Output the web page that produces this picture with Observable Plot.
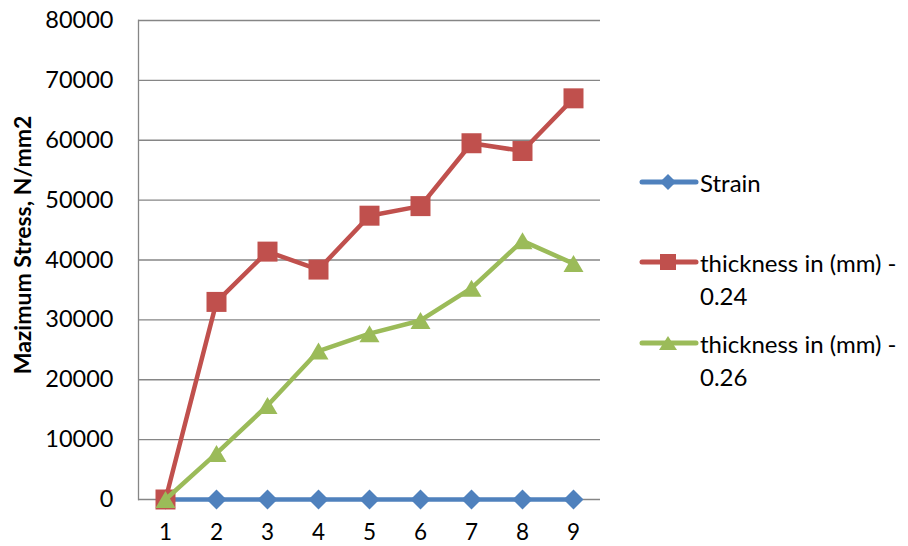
<!DOCTYPE html>
<html>
<head>
<meta charset="utf-8">
<script src="https://cdn.jsdelivr.net/npm/d3@7"></script>
<script src="https://cdn.jsdelivr.net/npm/@observablehq/plot@0.6"></script>
<style>
  html, body { margin: 0; padding: 0; background: #fff; }
  #wrap { position: relative; width: 908px; height: 546px; font-family: Lato, "Open Sans", sans-serif; color: #000; }
  #ytitle { position: absolute; left: 22px; top: 245px; transform: translate(-50%, -50%) rotate(-90deg); font-weight: bold; font-size: 23px; white-space: nowrap; }
  .lg { position: absolute; font-size: 24px; line-height: 33px; white-space: nowrap; }
  .sw { position: absolute; }
</style>
</head>
<body>
<div id="wrap"></div>
<script>
const categories = [1, 2, 3, 4, 5, 6, 7, 8, 9];
const strain = [0, 0, 0, 0, 0, 0, 0, 0, 0];
const thick024 = [0, 33000, 41400, 38400, 47400, 49000, 59500, 58200, 67000];
const thick026 = [0, 7700, 15700, 24800, 27700, 29900, 35300, 43200, 39400];
const yTicks = [0, 10000, 20000, 30000, 40000, 50000, 60000, 70000, 80000];
const seriesNames = ["Strain", "thickness in (mm) - 0.24", "thickness in (mm) - 0.26"];
const seriesColors = ["#4F81BD", "#C0504D", "#9BBB59"];

const sym = (f) => ({ draw(ctx, size) { f(ctx, Math.sqrt(size / Math.PI)); } });
const diamond = sym((c, r) => { c.moveTo(0, -r); c.lineTo(r, 0); c.lineTo(0, r); c.lineTo(-r, 0); c.closePath(); });
const square = sym((c, r) => { c.rect(-r, -r, 2 * r, 2 * r); });
const triangle = sym((c, r) => { const h = 0.85 * r; c.moveTo(0, -h); c.lineTo(r, h); c.lineTo(-r, h); c.closePath(); });
const symbols = [diamond, square, triangle];

const allSeries = [strain, thick024, thick026].map((vals, i) =>
  categories.map((c, j) => ({ x: c, y: vals[j], s: i })));

const marks = [
  Plot.gridY(yTicks, { stroke: "#868686", strokeOpacity: 1, strokeWidth: 1.3 }),
  Plot.frame({ anchor: "left", stroke: "#868686", strokeWidth: 1.3 }),
  Plot.axisY(yTicks, { tickSize: 0, tickPadding: 25, tickFormat: d => String(d), label: null, fontSize: 23.5, fill: "#000" }),
  Plot.axisX({ tickSize: 0, tickPadding: 25, label: null, fontSize: 22.5, fill: "#000" })
];
allSeries.forEach((data, i) => {
  marks.push(Plot.line(data, { x: "x", y: "y", stroke: seriesColors[i], strokeWidth: 4.5, strokeLinejoin: "round", strokeLinecap: "round" }));
  marks.push(Plot.dot(data, { x: "x", y: "y", symbol: () => symbols[i], r: 10, fill: seriesColors[i], stroke: "none" }));
});

const chart = Plot.plot({
  width: 908,
  height: 546,
  marginLeft: 138,
  marginRight: 308,
  marginTop: 20,
  marginBottom: 47,
  style: { fontFamily: "Lato, 'Open Sans', sans-serif", fontSize: "23.5px", color: "#000", background: "#fff" },
  x: { type: "point", domain: categories, padding: 0.5 },
  y: { domain: [0, 80000] },
  symbol: { type: "identity" },
  marks
});

const wrap = document.getElementById("wrap");
wrap.appendChild(chart);

const title = document.createElement("div");
title.id = "ytitle";
title.textContent = "Mazimum Stress, N/mm2";
wrap.appendChild(title);

// legend
const legendRows = [
  { y: 182, lines: ["Strain"] },
  { y: 262, lines: ["thickness in (mm) -", "0.24"] },
  { y: 343, lines: ["thickness in (mm) -", "0.26"] }
];
const markerPaths = [
  "M0,-8L8,0L0,8L-8,0Z",
  "M-8,-8H8V8H-8Z",
  "M0,-7L9,7L-9,7Z"
];
legendRows.forEach((row, i) => {
  const sw = document.createElementNS("http://www.w3.org/2000/svg", "svg");
  sw.setAttribute("class", "sw");
  sw.setAttribute("width", 62);
  sw.setAttribute("height", 24);
  sw.style.left = "638px";
  sw.style.top = (row.y - 12) + "px";
  sw.innerHTML = `<line x1="4" y1="12" x2="58" y2="12" stroke="${seriesColors[i]}" stroke-width="5" stroke-linecap="round"/>` +
    `<path transform="translate(30,12)" d="${markerPaths[i]}" fill="${seriesColors[i]}"/>`;
  wrap.appendChild(sw);
  const t = document.createElement("div");
  t.className = "lg";
  t.style.left = "700px";
  t.style.top = (row.y - 16.5) + "px";
  t.innerHTML = row.lines.join("<br>");
  wrap.appendChild(t);
});
</script>
</body>
</html>
